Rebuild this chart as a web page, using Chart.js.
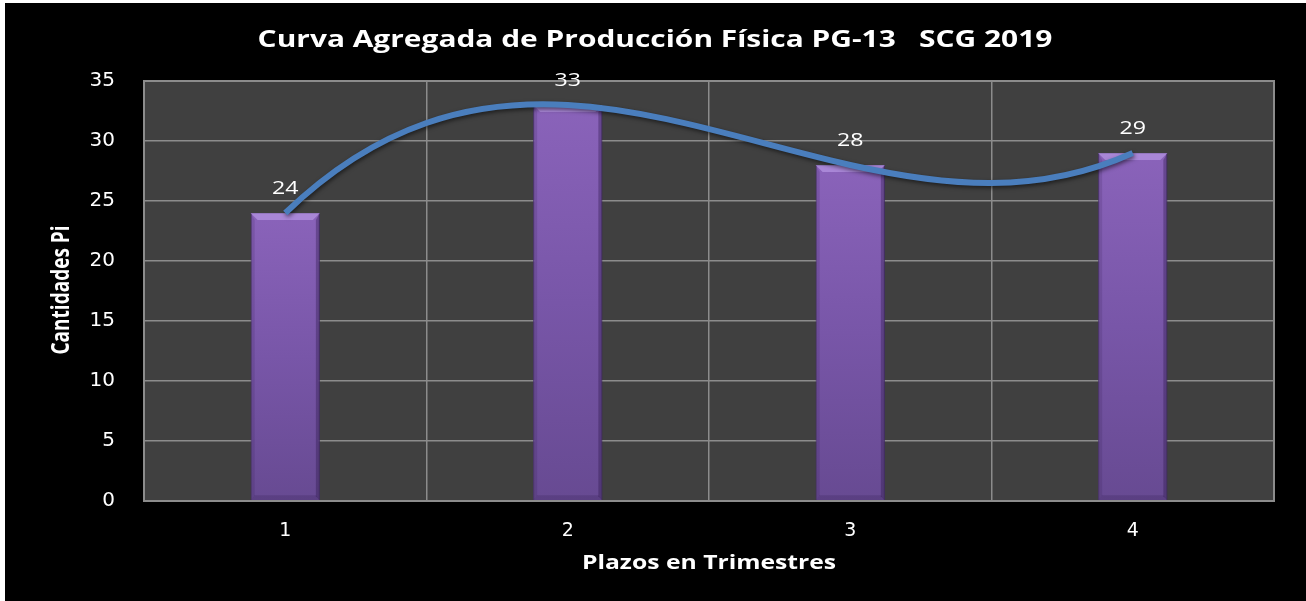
<!DOCTYPE html>
<html>
<head>
<meta charset="utf-8">
<script src="https://cdn.jsdelivr.net/npm/chart.js@4.4.0/dist/chart.umd.min.js"></script>
<style>
  html, body { margin: 0; padding: 0; background: #ffffff; }
  #wrap { position: absolute; left: 0; top: 0; width: 1306px; height: 601px; }
</style>
</head>
<body>
<div id="wrap"><canvas id="c" width="1306" height="601"></canvas></div>
<script>
const categories = ['1', '2', '3', '4'];
const produccion = [24, 33, 28, 29];
const yTicks = [0, 5, 10, 15, 20, 25, 30, 35];
const chartTitle = 'Curva Agregada de Producción Física PG-13   SCG 2019';
const xTitle = 'Plazos en Trimestres';
const yTitle = 'Cantidades Pi';

const FONT = "'Open Sans', 'DejaVu Sans', sans-serif";
const TICKFONT = "'DejaVu Sans', sans-serif";
const STRETCH = 1.3;

function stretchedText(ctx, text, x, y, font, sx) {
  ctx.save();
  ctx.font = font;
  ctx.translate(x, y);
  ctx.scale(sx, 1);
  ctx.fillText(text, 0, 0);
  ctx.restore();
}

// Smooth curve: cubic Hermite with tangents of the interpolating polynomial through the points
function smoothControlPoints(points) {
  const n = points.length;
  if (n < 2) return;
  const xs = points.map(p => p.x), ys = points.map(p => p.y);
  const w = xs.map((xi, i) => {
    let prod = 1;
    for (let k = 0; k < n; k++) if (k !== i) prod *= (xi - xs[k]);
    return 1 / prod;
  });
  const m = xs.map((xj, j) => {
    let s = 0, diag = 0;
    for (let i = 0; i < n; i++) {
      if (i === j) continue;
      const d = (w[i] / w[j]) / (xj - xs[i]);
      s += ys[i] * d;
      diag -= d;
    }
    return s + ys[j] * diag;
  });
  for (let j = 0; j < n; j++) {
    const p = points[j];
    const hPrev = j > 0 ? xs[j] - xs[j - 1] : 0;
    const hNext = j < n - 1 ? xs[j + 1] - xs[j] : 0;
    p.cp1x = xs[j] - hPrev / 3; p.cp1y = ys[j] - m[j] * hPrev / 3;
    p.cp2x = xs[j] + hNext / 3; p.cp2y = ys[j] + m[j] * hNext / 3;
  }
}

const bgPlugin = {
  id: 'bg',
  beforeDraw(chart) {
    const ctx = chart.ctx;
    const a = chart.chartArea;
    ctx.save();
    ctx.fillStyle = '#ffffff';
    ctx.fillRect(0, 0, chart.width, chart.height);
    ctx.fillStyle = '#000000';
    ctx.fillRect(5, 3, chart.width - 5, chart.height - 3);
    ctx.fillStyle = '#404040';
    ctx.fillRect(a.left, a.top, a.right - a.left, a.bottom - a.top);
    ctx.restore();
  },
  beforeDatasetDraw(chart, args) {
    const meta = args.meta;
    if (meta.type === 'line') {
      meta.dataset.updateControlPoints(chart.chartArea, 'x');
      smoothControlPoints(meta.data);
      meta.dataset._path = undefined;
      const ctx = chart.ctx;
      ctx.save();
      ctx.shadowColor = 'rgba(0,0,0,0.55)';
      ctx.shadowBlur = 4;
      ctx.shadowOffsetX = 1;
      ctx.shadowOffsetY = 2;
    }
  },
  afterDatasetDraw(chart, args) {
    const meta = args.meta;
    const ctx = chart.ctx;
    if (meta.type === 'line') {
      ctx.restore();
    } else if (meta.type === 'bar') {
      ctx.save();
      meta.data.forEach(bar => {
        const l = bar.x - bar.width / 2, r = bar.x + bar.width / 2;
        const t = bar.y, b = bar.base;
        const bev = 7;
        ctx.fillStyle = 'rgba(190,160,235,0.6)';
        ctx.beginPath();
        ctx.moveTo(l, t); ctx.lineTo(r, t); ctx.lineTo(r - bev, t + bev); ctx.lineTo(l + bev, t + bev); ctx.closePath();
        ctx.fill();
        ctx.fillStyle = 'rgba(40,20,70,0.35)';
        ctx.beginPath();
        ctx.moveTo(r, t); ctx.lineTo(r, b); ctx.lineTo(r - 4, b - 4); ctx.lineTo(r - 4, t + bev); ctx.closePath();
        ctx.fill();
        ctx.fillStyle = 'rgba(40,20,70,0.2)';
        ctx.beginPath();
        ctx.moveTo(l, b); ctx.lineTo(r, b); ctx.lineTo(r - 4, b - 5); ctx.lineTo(l + 4, b - 5); ctx.closePath();
        ctx.fill();
        ctx.fillStyle = 'rgba(40,20,70,0.15)';
        ctx.beginPath();
        ctx.moveTo(l, t); ctx.lineTo(l + 4, t + bev); ctx.lineTo(l + 4, b - 5); ctx.lineTo(l, b); ctx.closePath();
        ctx.fill();
      });
      ctx.restore();
    }
  },
  afterDatasetsDraw(chart) {
    const ctx = chart.ctx;
    const a = chart.chartArea;
    ctx.save();
    ctx.strokeStyle = '#8c8c8c';
    ctx.lineWidth = 2;
    ctx.strokeRect(a.left, a.top, a.right - a.left, a.bottom - a.top);
    const meta = chart.getDatasetMeta(1);
    ctx.fillStyle = '#ffffff';
    ctx.textAlign = 'center';
    ctx.textBaseline = 'middle';
    meta.data.forEach((bar, i) => {
      stretchedText(ctx, String(produccion[i]), bar.x, bar.y - 24, "19px " + FONT, 1.22);
    });
    stretchedText(ctx, chartTitle, 655, 40, "bold 23px " + FONT, STRETCH);
    stretchedText(ctx, xTitle, 709, 564, "bold 19px " + FONT, STRETCH);
    ctx.translate(62, 290);
    ctx.rotate(-Math.PI / 2);
    ctx.scale(1, STRETCH);
    ctx.font = "bold 19px " + FONT;
    ctx.fillText(yTitle, 0, 0);
    ctx.restore();
  }
};

new Chart(document.getElementById('c'), {
  data: {
    labels: categories,
    datasets: [
      {
        type: 'line',
        label: 'Curva',
        data: produccion,
        borderColor: '#4a7ebd',
        borderWidth: 6,
        pointRadius: 0,
        tension: 0.4,
        order: 0,
        clip: false
      },
      {
        type: 'bar',
        label: 'Producción',
        data: produccion,
        order: 1,
        categoryPercentage: 1.0,
        barPercentage: 0.245,
        borderColor: '#563c7e',
        borderWidth: 1,
        backgroundColor(ctx) {
          const chart = ctx.chart;
          const a = chart.chartArea;
          if (!a || !chart.scales.y) return '#7a56a8';
          const top = chart.scales.y.getPixelForValue(ctx.raw);
          const g = chart.ctx.createLinearGradient(0, top, 0, a.bottom);
          g.addColorStop(0, '#8a63ba');
          g.addColorStop(0.5, '#7856a8');
          g.addColorStop(1, '#674a92');
          return g;
        }
      }
    ]
  },
  options: {
    responsive: false,
    animation: false,
    layout: { padding: { left: 0, right: 32, top: 81, bottom: 0 } },
    plugins: { legend: { display: false }, tooltip: { enabled: false }, title: { display: false } },
    scales: {
      x: {
        grid: { color: '#8c8c8c', lineWidth: 1.5, offset: true, drawTicks: false },
        border: { display: false },
        ticks: { color: '#ffffff', font: { size: 19, family: TICKFONT }, padding: 19 },
        afterFit(s) { s.height = 100; }
      },
      y: {
        min: 0, max: 35,
        afterBuildTicks(s) { s.ticks = yTicks.map(v => ({ value: v })); },
        grid: { color: '#8c8c8c', lineWidth: 1.5, drawTicks: false },
        border: { display: false },
        ticks: { color: '#ffffff', font: { size: 20, family: TICKFONT }, padding: 29 },
        afterFit(s) { s.width = 144; }
      }
    }
  },
  plugins: [bgPlugin]
});
</script>
</body>
</html>
